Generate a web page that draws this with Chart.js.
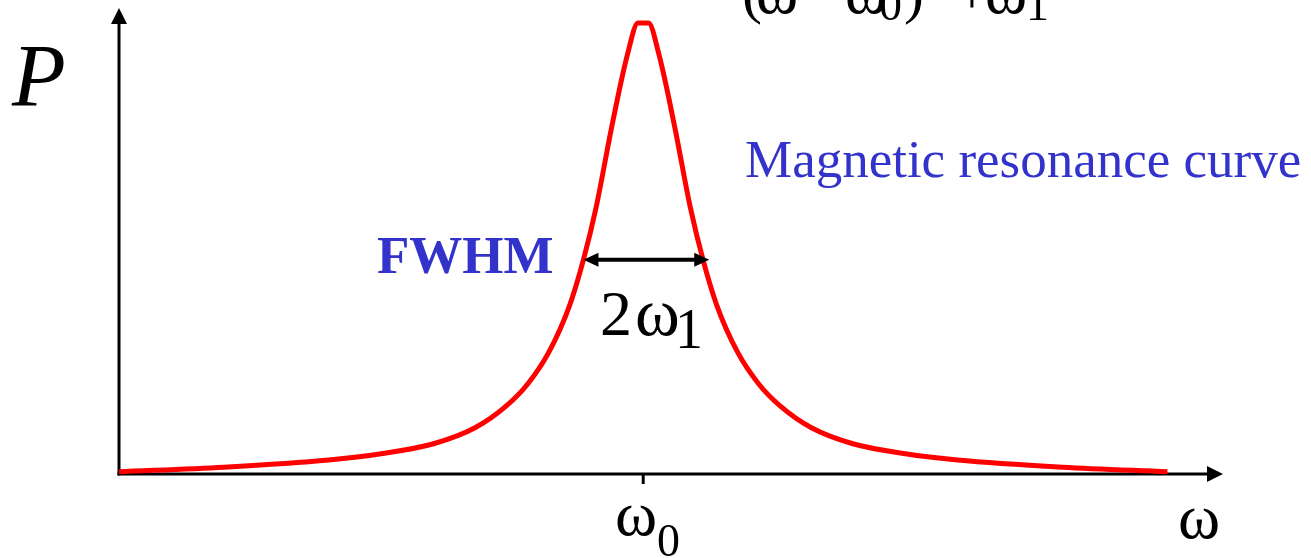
<!DOCTYPE html>
<html>
<head>
<meta charset="utf-8">
<script src="https://cdn.jsdelivr.net/npm/chart.js@4.4.0/dist/chart.umd.min.js"></script>
<style>
  html, body { margin: 0; padding: 0; background: #fff; }
  #wrap { width: 1311px; height: 558px; position: relative; }
</style>
</head>
<body>
<div id="wrap"><canvas id="ressonancia"></canvas></div>
<script>
// frequencia relativa (omega - omega0) e potencia absorvida (normalizada no pico)
var omega = [-5, -4, -3, -2.5, -2, -1.6, -1.3, -1.1, -0.9, -0.7, -0.57, -0.45, -0.3, -0.15, -0.05,
             0.05, 0.15, 0.3, 0.45, 0.57, 0.7, 0.9, 1.1, 1.3, 1.6, 2, 2.5, 3, 4, 5];
var potencia = [0.005, 0.015, 0.031, 0.045, 0.067, 0.103, 0.152, 0.2, 0.27, 0.375, 0.475, 0.59, 0.77, 0.93, 1.0,
                1.0, 0.93, 0.77, 0.59, 0.475, 0.375, 0.27, 0.2, 0.152, 0.103, 0.067, 0.045, 0.031, 0.015, 0.005];

// extremos da seta FWHM e altura onde ela e desenhada
var larguraFwhm = [-0.57, 0.63];
var alturaFwhm = 0.475;

var pontos = omega.map(function (w, i) {
    return { x: w, y: potencia[i] };
});

var serif = '"Liberation Serif", "Times New Roman", serif';
var azul = '#3333cc';

function seta(ctx, x, y, dx, dy, tam, larg) {
    // ponta de seta triangular apontando na direcao (dx, dy)
    ctx.beginPath();
    ctx.moveTo(x, y);
    ctx.lineTo(x - dx * tam - dy * larg, y - dy * tam + dx * larg);
    ctx.lineTo(x - dx * tam + dy * larg, y - dy * tam - dx * larg);
    ctx.closePath();
    ctx.fill();
}

function texto(ctx, t, x, y, tam, estilo) {
    ctx.font = (estilo ? estilo + ' ' : '') + tam + 'px ' + serif;
    ctx.fillText(t, x, y);
}

var eixosPlugin = {
    id: 'eixos',
    beforeDatasetsDraw: function (chart) {
        var ctx = chart.ctx;
        var area = chart.chartArea;
        var sx = chart.scales.x;
        var y0 = chart.scales.y.getPixelForValue(0);
        var x0 = area.left;

        ctx.save();
        ctx.strokeStyle = '#000';
        ctx.fillStyle = '#000';
        ctx.lineWidth = 3;

        // eixo vertical
        ctx.beginPath();
        ctx.moveTo(x0, y0 + 1.5);
        ctx.lineTo(x0, area.top + 12);
        ctx.stroke();
        seta(ctx, x0, area.top, 0, -1, 16, 8);

        // eixo horizontal
        ctx.beginPath();
        ctx.moveTo(x0 - 1.5, y0);
        ctx.lineTo(area.right - 12, y0);
        ctx.stroke();
        seta(ctx, area.right, y0, 1, 0, 16, 8);

        // marca em omega0
        var xc = sx.getPixelForValue(0);
        ctx.beginPath();
        ctx.moveTo(xc, y0);
        ctx.lineTo(xc, y0 + 10);
        ctx.stroke();
        ctx.restore();
    },
    afterDatasetsDraw: function (chart) {
        var ctx = chart.ctx;
        var sx = chart.scales.x;
        var sy = chart.scales.y;

        ctx.save();
        ctx.textBaseline = 'alphabetic';
        ctx.textAlign = 'left';
        ctx.fillStyle = '#000';

        // P no eixo vertical
        texto(ctx, 'P', 12, 105, 88, 'italic');

        // rotulos do eixo horizontal
        texto(ctx, '\u03c9', 615, 535, 64);
        texto(ctx, '0', 657, 556, 46);
        texto(ctx, '\u03c9', 1178, 538, 64);

        // seta dupla da largura a meia altura
        var xa = sx.getPixelForValue(larguraFwhm[0]);
        var xb = sx.getPixelForValue(larguraFwhm[1]);
        var yf = sy.getPixelForValue(alturaFwhm);
        ctx.strokeStyle = '#000';
        ctx.lineWidth = 4;
        ctx.beginPath();
        ctx.moveTo(xa + 10, yf);
        ctx.lineTo(xb - 10, yf);
        ctx.stroke();
        seta(ctx, xa, yf, -1, 0, 15, 7);
        seta(ctx, xb, yf, 1, 0, 15, 7);

        texto(ctx, '2', 600, 335, 64);
        texto(ctx, '\u03c9', 635, 335, 68);
        texto(ctx, '1', 675, 348, 56);

        // textos em azul
        ctx.fillStyle = azul;
        texto(ctx, 'FWHM', 377, 273, 53, 'bold');
        texto(ctx, 'Magnetic resonance curve', 745, 177, 53);

        // formula no topo (so a parte de baixo fica na imagem)
        ctx.fillStyle = '#000';
        texto(ctx, '(', 742, 12, 60);
        texto(ctx, '\u03c9', 756, 13, 64);
        texto(ctx, '\u2212', 805, 13, 60);
        texto(ctx, '\u03c9', 845, 13, 64);
        texto(ctx, '0', 879, 20, 46);
        texto(ctx, ')', 904, 12, 60);
        texto(ctx, '+', 955, 13, 60);
        texto(ctx, '\u03c9', 985, 13, 64);
        texto(ctx, '1', 1026, 20, 46);
        ctx.restore();
    }
};

var ctxRessonancia = document.getElementById('ressonancia').getContext('2d');

var graficoRessonancia = new Chart(ctxRessonancia, {
    type: 'line',
    data: {
        datasets: [{
            label: 'P',
            data: pontos,
            borderColor: '#ff0000',
            borderWidth: 5,
            pointRadius: 0,
            fill: false,
            cubicInterpolationMode: 'monotone',
            clip: false
        }]
    },
    options: {
        responsive: true,
        maintainAspectRatio: false,
        animation: false,
        layout: {
            padding: { left: 119, right: 88, top: 8, bottom: 84 }
        },
        scales: {
            x: {
                type: 'linear',
                min: -5,
                max: 5.53,
                display: false
            },
            y: {
                min: 0,
                max: 1.033,
                display: false
            }
        },
        plugins: {
            legend: { display: false },
            tooltip: { enabled: false }
        }
    },
    plugins: [eixosPlugin]
});
</script>
</body>
</html>
